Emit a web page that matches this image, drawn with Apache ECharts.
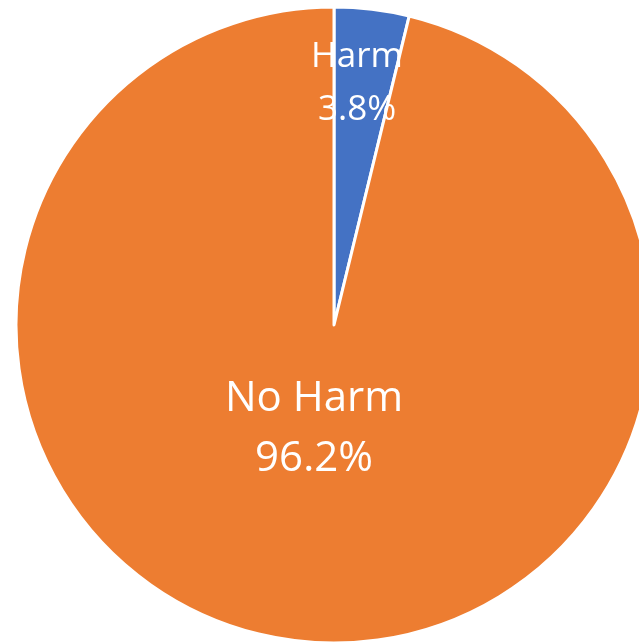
<!DOCTYPE html>
<html>
<head>
<meta charset="utf-8">
<script src="https://cdn.jsdelivr.net/npm/echarts@6/dist/echarts.min.js"></script>
<style>
html, body { margin: 0; padding: 0; background: #fff; }
#main { width: 639px; height: 643px; }
</style>
</head>
<body>
<div id="main"></div>
<script>
var categories = ['Harm', 'No Harm']
var values = [3.8, 96.2]
var colors = ['#4472C4', '#ED7D31']
// where each label sits, and how big (matches the reference picture)
var labelPos = [[357, 84], [314, 429]]
var labelSize = [35, 42]
var labelLine = [53, 60]

var myChart = echarts.init(document.getElementById('main'))

var data = categories.map(function (name, i) {
	return {
		name: name,
		value: values[i],
		itemStyle: { color: colors[i] },
		label: { fontSize: labelSize[i], lineHeight: labelLine[i] },
	}
})

var option = {
	animation: false,
	series: [
		{
			type: 'pie',
			center: [334, 325],
			radius: 318,
			startAngle: 90,
			clockwise: true,
			data: data,
			itemStyle: {
				borderColor: '#fff',
				borderWidth: 3,
			},
			label: {
				position: 'inside',
				color: '#fff',
				fontFamily: 'Open Sans',
				align: 'center',
				formatter: function (p) {
					return p.name + '\n' + p.percent.toFixed(1) + '%'
				},
			},
			labelLayout: function (params) {
				var pos = labelPos[params.dataIndex]
				return { x: pos[0], y: pos[1], align: 'center', verticalAlign: 'middle' }
			},
			emphasis: { disabled: true },
		},
	],
}
myChart.setOption(option)
</script>
</body>
</html>
